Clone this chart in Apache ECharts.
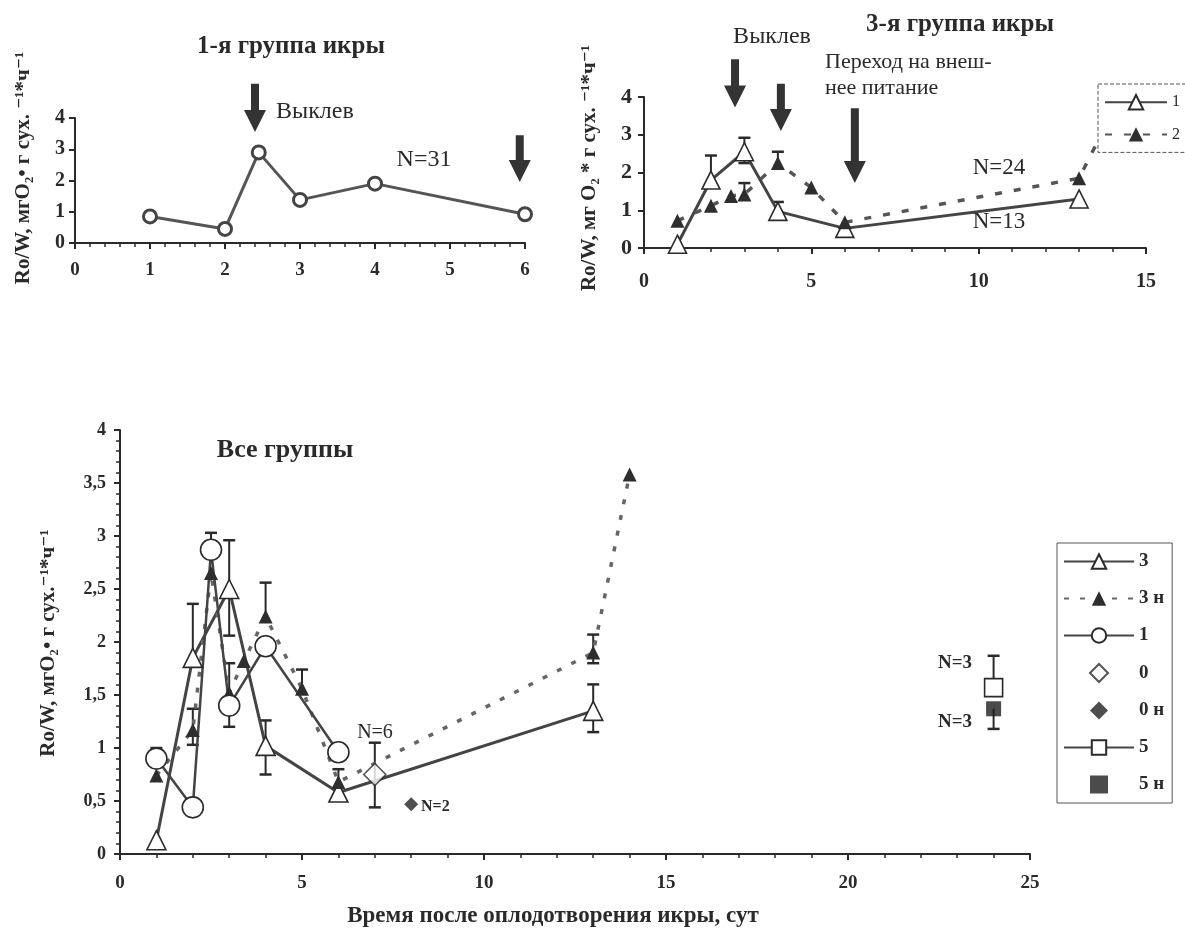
<!DOCTYPE html>
<html>
<head>
<meta charset="utf-8">
<script src="https://cdn.jsdelivr.net/npm/echarts@6/dist/echarts.min.js"></script>
<style>
html, body { margin: 0; padding: 0; background: #fff; }
#draw_area { width: 1185px; height: 938px; }
</style>
</head>
<body>
<div id="draw_area"></div>
<script>
"use strict";

// 1-я группа икры: [сутки, Ro/W]
var g1Points = [[1, 0.85], [2, 0.45], [2.45, 2.9], [3, 1.38], [4, 1.9], [6, 0.92]];

// 3-я группа икры
var g3Line1 = [[1, 0.1], [2, 1.8], [3, 2.55], [4, 0.97], [6, 0.52], [13, 1.3]];
var g3Line2 = [[1, 0.72], [2, 1.12], [2.6, 1.38], [3, 1.42], [4, 2.25], [5, 1.6], [6, 0.68], [13, 1.85], [14, 3.6]];
// погрешности: [x, значение, конец уса]
var g3Err1 = [[2, 1.8, 2.45], [3, 2.55, 2.92], [3, 2.55, 2.25], [4, 0.97, 1.22]];
var g3Err2 = [[3, 1.42, 1.72], [4, 2.25, 2.55]];

// Все группы
var s3 = [[1, 0.13], [2, 1.85], [3, 2.5], [4, 1.02], [6, 0.58], [13, 1.35]];
var s3n = [[1, 0.74], [2, 1.17], [2.5, 2.65], [3, 1.52], [3.4, 1.82], [4, 2.24], [5, 1.56], [6, 0.68], [13, 1.9], [14, 3.58]];
var s1 = [[1, 0.9], [2, 0.44], [2.5, 2.87], [3, 1.4], [4, 1.96], [6, 0.96]];
var s0 = [[7, 0.75]];
var s0n = [[8, 0.47]];
var s5 = [[24, 1.57]];
var s5n = [[24, 1.37]];
var err3 = [[2, 1.85, 2.36], [3, 2.5, 2.96], [3, 2.5, 2.06], [4, 1.02, 1.26], [4, 1.02, 0.75], [13, 1.35, 1.6], [13, 1.35, 1.15]];
var err3n = [[2, 1.17, 1.37], [2, 1.17, 1.03], [3, 1.52, 1.8], [4, 2.24, 2.56], [5, 1.56, 1.74], [6, 0.68, 0.8], [13, 1.9, 2.07], [13, 1.9, 1.8]];
var err1 = [[1, 0.9, 1.0], [2.5, 2.87, 3.03], [3, 1.4, 1.2]];
var err0 = [[7, 0.75, 1.05], [7, 0.75, 0.44]];
var err5 = [[24, 1.57, 1.87]];
var err5n = [[24, 1.37, 1.18]];

// стрелки: [x, верх, острие] в единицах осей
var arrows1 = [[2.4, 5.1, 3.55], [5.93, 3.45, 1.95]];
var arrows3 = [[2.72, 5.0, 3.72], [4.09, 4.35, 3.1], [6.3, 3.7, 1.72]];

var SERIF = '"Liberation Serif", "DejaVu Serif", serif';
var INK = '#2a2a2a';
var DIAMOND = 'path://M10,0L20,10L10,20L0,10Z';
var SQUARE = 'path://M0,0H20V20H0Z';

function errorRender(params, api) {
    var p = api.coord([api.value(0), api.value(1)]);
    var e = api.coord([api.value(0), api.value(2)]);
    return {
        type: 'group',
        children: [
            { type: 'line', shape: { x1: p[0], y1: p[1], x2: e[0], y2: e[1] }, style: { stroke: INK, lineWidth: 2 } },
            { type: 'line', shape: { x1: e[0] - 6, y1: e[1], x2: e[0] + 6, y2: e[1] }, style: { stroke: INK, lineWidth: 2.5 } }
        ]
    };
}

function errSeries(data, gridIndex) {
    return {
        type: 'custom', renderItem: errorRender, data: data, z: 1,
        xAxisIndex: gridIndex, yAxisIndex: gridIndex,
        encode: { x: 0, y: [1, 2] }, silent: true
    };
}

function xAxisOf(gridIndex, max, interval, split, fontSize, margin) {
    return {
        type: 'value', gridIndex: gridIndex, min: 0, max: max, interval: interval,
        axisLine: { lineStyle: { color: INK, width: 2 } },
        axisTick: { length: 6, lineStyle: { color: INK, width: 2 } },
        minorTick: { show: true, splitNumber: split, length: 4, lineStyle: { color: INK, width: 1.5 } },
        splitLine: { show: false },
        axisLabel: { fontFamily: SERIF, fontSize: fontSize, fontWeight: 'bold', color: INK, margin: margin }
    };
}

function yAxisOf(gridIndex, interval, fontSize, margin) {
    return {
        type: 'value', gridIndex: gridIndex, min: 0, max: 4, interval: interval,
        axisLine: { show: true, lineStyle: { color: INK, width: 2 } },
        axisTick: { show: true, length: 6, lineStyle: { color: INK, width: 2 } },
        splitLine: { show: false },
        axisLabel: {
            fontFamily: SERIF, fontSize: fontSize, fontWeight: 'bold', color: INK, margin: margin,
            formatter: function (v) { return String(v).replace('.', ','); }
        }
    };
}

var openStyle = { color: '#fff', borderColor: INK, borderWidth: 1.6 };
var legendNames = { gr3_1: '1', gr3_2: '2' };

var yAxes = [yAxisOf(0, 1, 20, 10), yAxisOf(1, 1, 22, 12), yAxisOf(2, 0.5, 18, 14)];
yAxes[2].minorTick = { show: true, splitNumber: 5, length: 4, lineStyle: { color: INK, width: 1.5 } };

var option = {
    animation: false,
    backgroundColor: '#fff',
    grid: [
        { left: 75, top: 118, width: 450, height: 125, outerBoundsMode: 'none' },
        { left: 644, top: 97, width: 502, height: 151, outerBoundsMode: 'none' },
        { left: 120, top: 430, width: 910, height: 424, outerBoundsMode: 'none' }
    ],
    xAxis: [
        xAxisOf(0, 6, 1, 5, 19, 18),
        xAxisOf(1, 15, 5, 5, 20, 24),
        xAxisOf(2, 25, 5, 5, 19, 20)
    ],
    yAxis: yAxes,
    legend: [
        {
            data: ['gr3_1', 'gr3_2'], orient: 'vertical', left: 1098, top: 84,
            itemWidth: 62, itemHeight: 18, itemGap: 16, padding: [10, 8, 10, 6],
            borderColor: '#555', borderWidth: 1, borderType: 'dashed', backgroundColor: '#fff',
            formatter: function (name) { return legendNames[name]; },
            textStyle: { fontFamily: SERIF, fontSize: 16, color: INK }
        },
        {
            data: ['3', '3 н', '1', { name: '0', icon: DIAMOND }, { name: '0 н', icon: DIAMOND }, '5', { name: '5 н', icon: SQUARE }],
            orient: 'vertical', left: 1057, top: 543,
            itemWidth: 70, itemHeight: 18, itemGap: 18, padding: [9, 8, 9, 6],
            borderColor: '#555', borderWidth: 1, backgroundColor: '#fff',
            textStyle: { fontFamily: SERIF, fontSize: 19, fontWeight: 'bold', color: INK }
        }
    ],
    series: [
        // 1-я группа
        {
            type: 'line', xAxisIndex: 0, yAxisIndex: 0, data: g1Points,
            symbol: 'circle', symbolSize: 13,
            lineStyle: { color: '#555', width: 3 },
            itemStyle: { color: '#fff', borderColor: '#444', borderWidth: 3 }
        },
        // 3-я группа
        errSeries(g3Err1, 1),
        errSeries(g3Err2, 1),
        {
            name: 'gr3_1', type: 'line', xAxisIndex: 1, yAxisIndex: 1, data: g3Line1,
            symbol: 'triangle', symbolSize: 18, z: 3,
            lineStyle: { color: '#444', width: 3 }, itemStyle: openStyle
        },
        {
            name: 'gr3_2', type: 'line', xAxisIndex: 1, yAxisIndex: 1, data: g3Line2,
            symbol: 'triangle', symbolSize: 14,
            lineStyle: { color: '#555', width: 3.5, type: [7, 12] },
            itemStyle: { color: '#2e2e2e' }
        },
        // все группы
        errSeries(err3, 2),
        errSeries(err3n, 2),
        errSeries(err1, 2),
        errSeries(err0, 2),
        errSeries(err5, 2),
        errSeries(err5n, 2),
        {
            name: '3', type: 'line', xAxisIndex: 2, yAxisIndex: 2, data: s3,
            symbol: 'triangle', symbolSize: 19, z: 3,
            lineStyle: { color: '#444', width: 3 }, itemStyle: openStyle
        },
        {
            name: '3 н', type: 'line', xAxisIndex: 2, yAxisIndex: 2, data: s3n,
            symbol: 'triangle', symbolSize: 14,
            lineStyle: { color: '#666', width: 3.5, type: [5, 11] },
            itemStyle: { color: '#2e2e2e' }
        },
        {
            name: '1', type: 'line', xAxisIndex: 2, yAxisIndex: 2, data: s1,
            symbol: 'circle', symbolSize: 21, z: 3,
            lineStyle: { color: '#444', width: 2.5 }, itemStyle: openStyle
        },
        {
            name: '0', type: 'scatter', xAxisIndex: 2, yAxisIndex: 2, data: s0,
            symbol: 'diamond', symbolSize: 22, z: 3, itemStyle: openStyle
        },
        {
            name: '0 н', type: 'scatter', xAxisIndex: 2, yAxisIndex: 2, data: s0n,
            symbol: 'diamond', symbolSize: 14, z: 3, itemStyle: { color: '#222' }
        },
        {
            name: '5', type: 'line', xAxisIndex: 2, yAxisIndex: 2, data: s5,
            symbol: 'rect', symbolSize: 18, z: 3,
            lineStyle: { color: '#444', width: 2 }, itemStyle: openStyle
        },
        {
            name: '5 н', type: 'scatter', xAxisIndex: 2, yAxisIndex: 2, data: s5n,
            symbol: 'rect', symbolSize: 15, z: 3, itemStyle: { color: '#1e1e1e' }
        }
    ]
};

var chart_object = echarts.init(document.getElementById('draw_area'));
chart_object.setOption(option);

// подписи и стрелки поверх графиков
function text(str, x, y, size, bold, align, rotate) {
    return {
        type: 'text', x: x, y: y, rotation: rotate ? Math.PI / 2 : 0, z: 10,
        style: {
            text: str, fill: INK, align: align || 'center', verticalAlign: 'middle',
            font: (bold ? 'bold ' : '') + size + 'px ' + SERIF
        }
    };
}

function arrow(gridIndex, a) {
    var top = chart_object.convertToPixel({ gridIndex: gridIndex }, [a[0], a[1]]);
    var tip = chart_object.convertToPixel({ gridIndex: gridIndex }, [a[0], a[2]]);
    var x = top[0], y1 = top[1], y2 = tip[1], h = y2 - 22;
    return {
        type: 'polygon', z: 10,
        shape: { points: [[x - 4, y1], [x + 4, y1], [x + 4, h], [x + 11, h], [x, y2], [x - 11, h], [x - 4, h]] },
        style: { fill: '#333' }
    };
}

var elements = [
    text('1-я группа икры', 291, 47, 25, true),
    text('Выклев', 276, 112, 24, false, 'left'),
    text('N=31', 424, 160, 24, false),
    text('Ro/W, мгO₂• г сух. ⁻¹*ч⁻¹', 24, 168, 21, true, 'center', true),

    text('3-я группа икры', 960, 25, 25, true),
    text('Выклев', 772, 37, 24, false),
    text('Переход на внеш-', 825, 62, 22, false, 'left'),
    text('нее питание', 825, 88, 22, false, 'left'),
    text('N=24', 999, 168, 23, false),
    text('N=13', 999, 222, 23, false),
    text('Ro/W, мг O₂ * г сух. ⁻¹*ч⁻¹', 590, 168, 21, true, 'center', true),

    text('Все группы', 285, 450, 26, true),
    text('N=6', 375, 733, 20, false),
    text('N=2', 421, 807, 16, true, 'left'),
    text('N=3', 972, 663, 19, true, 'right'),
    text('N=3', 972, 722, 19, true, 'right'),
    text('Ro/W, мгO₂• г сух.⁻¹*ч⁻¹', 49, 643, 21, true, 'center', true),
    text('Время после оплодотворения икры, сут', 553, 916, 23, true)
];

arrows1.forEach(function (a) { elements.push(arrow(0, a)); });
arrows3.forEach(function (a) { elements.push(arrow(1, a)); });

chart_object.setOption({ graphic: elements });
</script>
</body>
</html>
